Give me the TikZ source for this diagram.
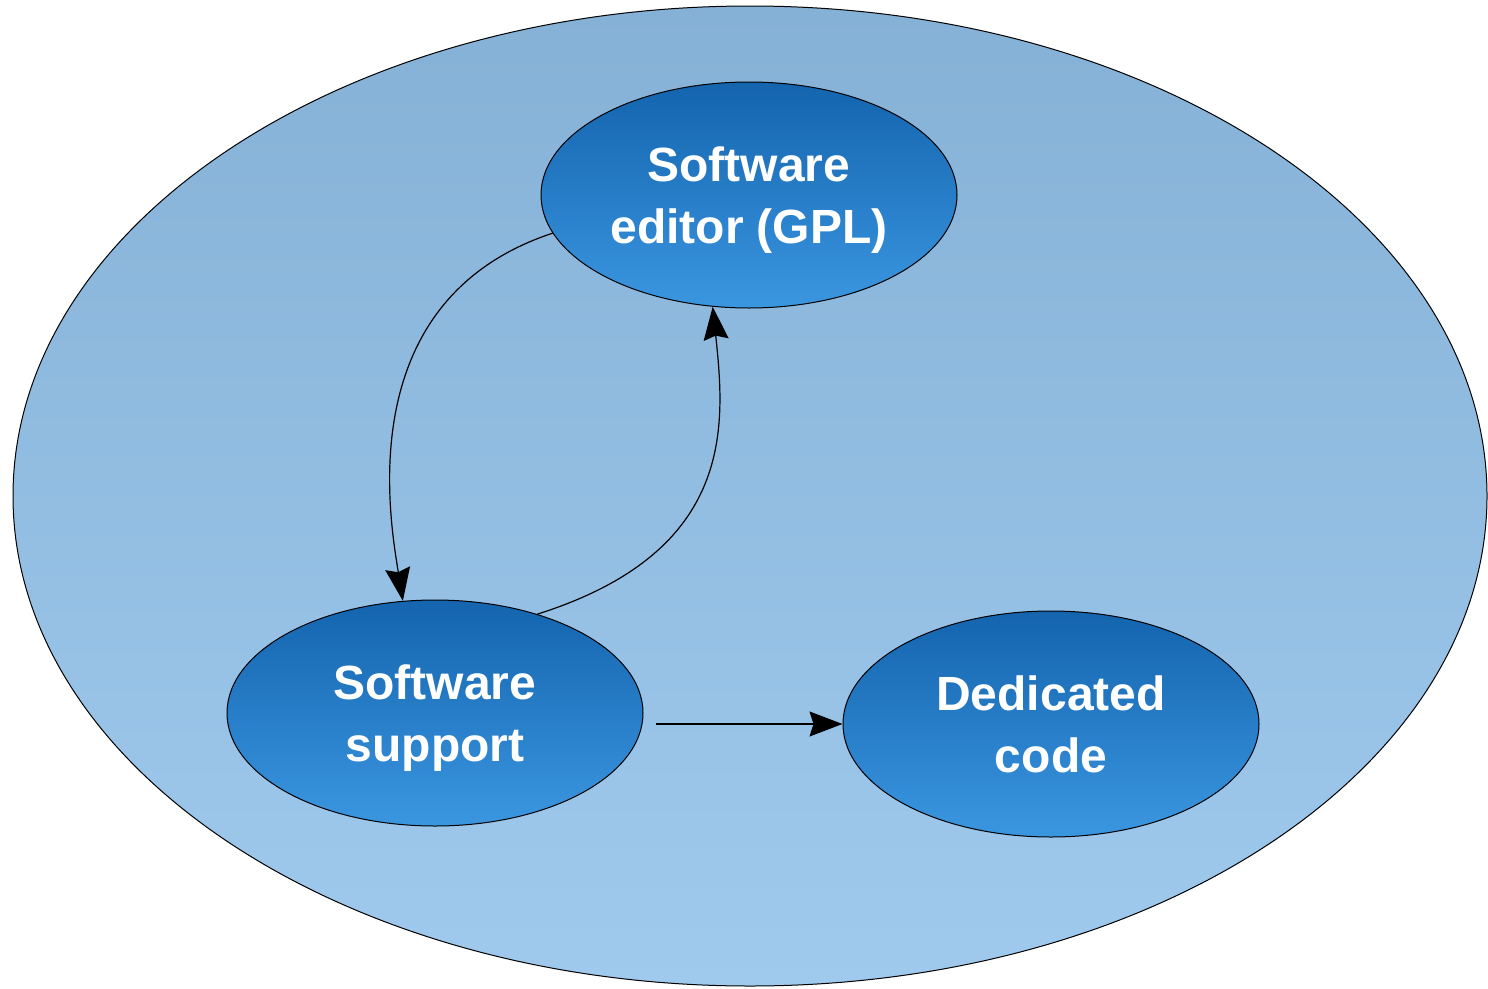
\documentclass[tikz,border=0pt]{standalone}
\usepackage{fontspec}
\setmainfont{Liberation Sans}
\usetikzlibrary{arrows.meta,shapes.geometric}
\definecolor{outertop}{HTML}{86B1D6}
\definecolor{outerbot}{HTML}{9FCAEE}
\definecolor{innertop}{HTML}{1464AE}
\definecolor{innerbot}{HTML}{3B96E0}
\tikzset{
  bubble/.style={ellipse, draw=black, line width=1pt, minimum width=416pt, minimum height=226pt,
    inner sep=0pt, top color=innertop, bottom color=innerbot, text=white, align=center,
    text depth=0pt, font=\fontsize{48}{62}\selectfont\bfseries},
  conn/.style={draw=black, line width=1.2pt, -{Stealth[length=33pt,width=25pt,inset=4pt]}}
}
\begin{document}
\begin{tikzpicture}[x=1pt,y=-1pt]
\useasboundingbox (0,0) rectangle (1488,988);
\node[ellipse, draw=black, line width=1pt, minimum width=1474pt, minimum height=980pt, inner sep=0pt,
  top color=outertop, bottom color=outerbot] (outer) at (750,496) {};
\node[bubble] (editor) at (749,195) {Software\\editor (GPL)};
\node[bubble] (support) at (435,713) {Software\\support};
\node[bubble] (dedicated) at (1051,724) {Dedicated\\code};
\draw[conn] (editor.191) .. controls (350,300) and (390,520) .. (support.106);
\draw[conn] (support.44) .. controls (737,551) and (725,424) .. (editor.252);
\coordinate (s) at ([xshift=12pt]support.east |- dedicated.west);
\draw[conn] (s) -- (dedicated.west);
\end{tikzpicture}
\end{document}
